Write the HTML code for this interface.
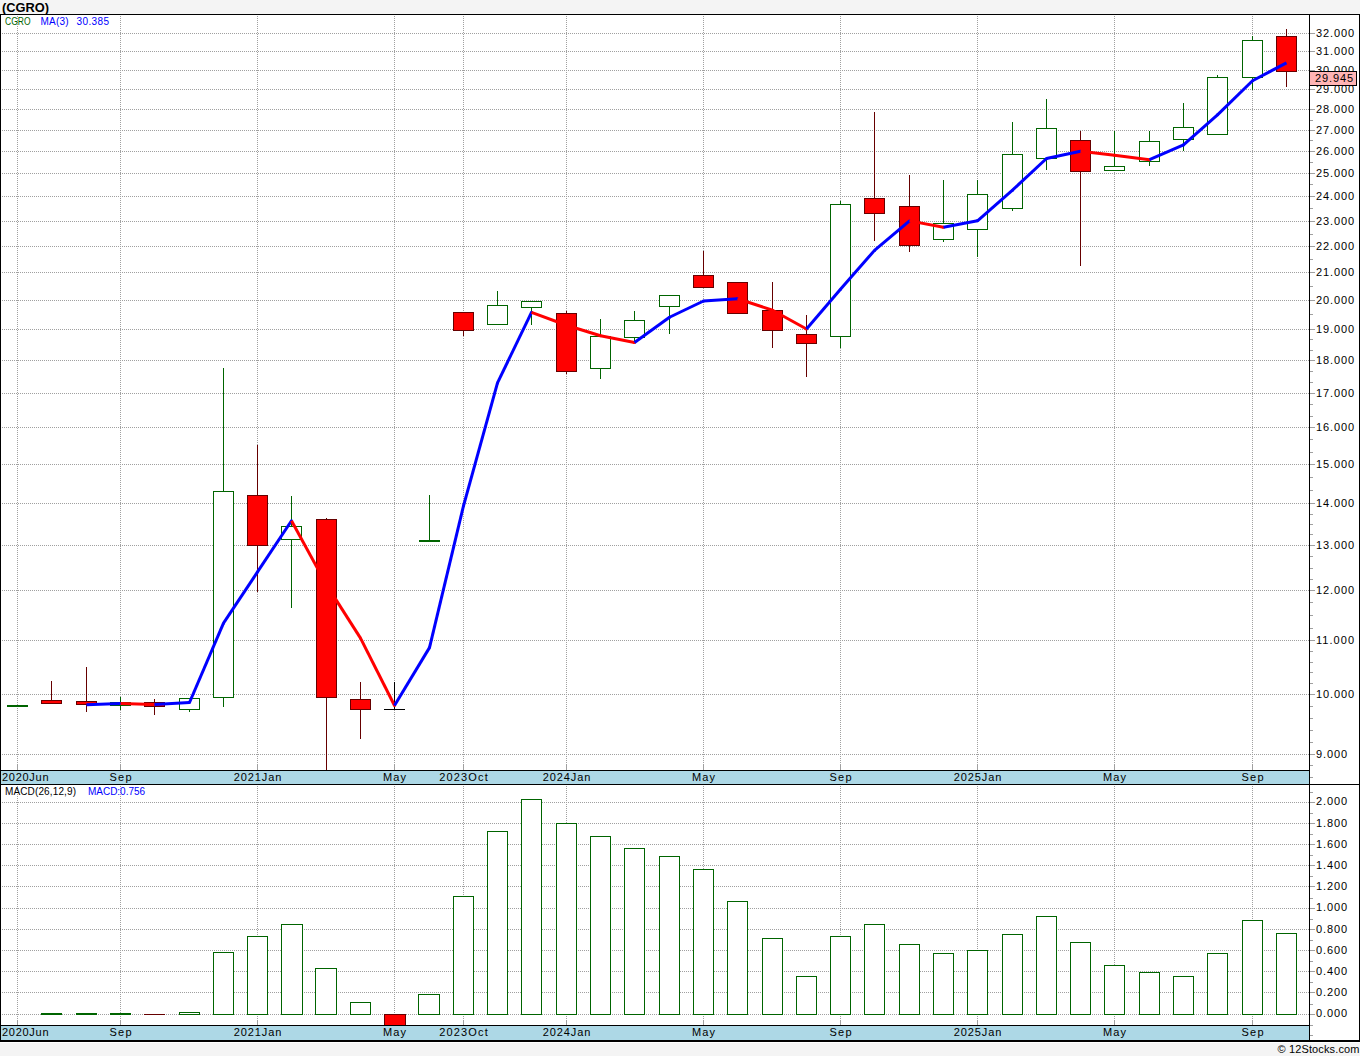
<!DOCTYPE html><html><head><meta charset="utf-8"><style>html,body{margin:0;padding:0;background:#f4f4f4;width:1360px;height:1056px;overflow:hidden}svg{display:block}text{font-family:"Liberation Sans", sans-serif}</style></head><body>
<svg width="1360" height="1056" viewBox="0 0 1360 1056">
<rect x="0" y="0" width="1360" height="1056" fill="#f4f4f4"/>
<rect x="0" y="14" width="1360" height="1029" fill="#ffffff"/>
<g shape-rendering="crispEdges">
<line x1="1" y1="754.5" x2="1309" y2="754.5" stroke="#a0a0a0" stroke-dasharray="1 1" stroke-dashoffset="-1"/>
<line x1="1" y1="694.5" x2="1309" y2="694.5" stroke="#a0a0a0" stroke-dasharray="1 1" stroke-dashoffset="-1"/>
<line x1="1" y1="640.5" x2="1309" y2="640.5" stroke="#a0a0a0" stroke-dasharray="1 1" stroke-dashoffset="-1"/>
<line x1="1" y1="590.5" x2="1309" y2="590.5" stroke="#a0a0a0" stroke-dasharray="1 1" stroke-dashoffset="-1"/>
<line x1="1" y1="545.5" x2="1309" y2="545.5" stroke="#a0a0a0" stroke-dasharray="1 1" stroke-dashoffset="-1"/>
<line x1="1" y1="503.5" x2="1309" y2="503.5" stroke="#a0a0a0" stroke-dasharray="1 1" stroke-dashoffset="-1"/>
<line x1="1" y1="464.5" x2="1309" y2="464.5" stroke="#a0a0a0" stroke-dasharray="1 1" stroke-dashoffset="-1"/>
<line x1="1" y1="427.5" x2="1309" y2="427.5" stroke="#a0a0a0" stroke-dasharray="1 1" stroke-dashoffset="-1"/>
<line x1="1" y1="393.5" x2="1309" y2="393.5" stroke="#a0a0a0" stroke-dasharray="1 1" stroke-dashoffset="-1"/>
<line x1="1" y1="360.5" x2="1309" y2="360.5" stroke="#a0a0a0" stroke-dasharray="1 1" stroke-dashoffset="-1"/>
<line x1="1" y1="329.5" x2="1309" y2="329.5" stroke="#a0a0a0" stroke-dasharray="1 1" stroke-dashoffset="-1"/>
<line x1="1" y1="300.5" x2="1309" y2="300.5" stroke="#a0a0a0" stroke-dasharray="1 1" stroke-dashoffset="-1"/>
<line x1="1" y1="272.5" x2="1309" y2="272.5" stroke="#a0a0a0" stroke-dasharray="1 1" stroke-dashoffset="-1"/>
<line x1="1" y1="246.5" x2="1309" y2="246.5" stroke="#a0a0a0" stroke-dasharray="1 1" stroke-dashoffset="-1"/>
<line x1="1" y1="221.5" x2="1309" y2="221.5" stroke="#a0a0a0" stroke-dasharray="1 1" stroke-dashoffset="-1"/>
<line x1="1" y1="196.5" x2="1309" y2="196.5" stroke="#a0a0a0" stroke-dasharray="1 1" stroke-dashoffset="-1"/>
<line x1="1" y1="173.5" x2="1309" y2="173.5" stroke="#a0a0a0" stroke-dasharray="1 1" stroke-dashoffset="-1"/>
<line x1="1" y1="151.5" x2="1309" y2="151.5" stroke="#a0a0a0" stroke-dasharray="1 1" stroke-dashoffset="-1"/>
<line x1="1" y1="130.5" x2="1309" y2="130.5" stroke="#a0a0a0" stroke-dasharray="1 1" stroke-dashoffset="-1"/>
<line x1="1" y1="109.5" x2="1309" y2="109.5" stroke="#a0a0a0" stroke-dasharray="1 1" stroke-dashoffset="-1"/>
<line x1="1" y1="89.5" x2="1309" y2="89.5" stroke="#a0a0a0" stroke-dasharray="1 1" stroke-dashoffset="-1"/>
<line x1="1" y1="70.5" x2="1309" y2="70.5" stroke="#a0a0a0" stroke-dasharray="1 1" stroke-dashoffset="-1"/>
<line x1="1" y1="51.5" x2="1309" y2="51.5" stroke="#a0a0a0" stroke-dasharray="1 1" stroke-dashoffset="-1"/>
<line x1="1" y1="33.5" x2="1309" y2="33.5" stroke="#a0a0a0" stroke-dasharray="1 1" stroke-dashoffset="-1"/>
<line x1="17.5" y1="14" x2="17.5" y2="764" stroke="#a0a0a0" stroke-dasharray="1 1"/>
<line x1="17.5" y1="764" x2="17.5" y2="770" stroke="#a0a0a0"/>
<line x1="17.5" y1="786" x2="17.5" y2="1020" stroke="#a0a0a0" stroke-dasharray="1 1"/>
<line x1="17.5" y1="1020" x2="17.5" y2="1025" stroke="#a0a0a0"/>
<line x1="120.5" y1="14" x2="120.5" y2="764" stroke="#a0a0a0" stroke-dasharray="1 1"/>
<line x1="120.5" y1="764" x2="120.5" y2="770" stroke="#a0a0a0"/>
<line x1="120.5" y1="786" x2="120.5" y2="1020" stroke="#a0a0a0" stroke-dasharray="1 1"/>
<line x1="120.5" y1="1020" x2="120.5" y2="1025" stroke="#a0a0a0"/>
<line x1="257.5" y1="14" x2="257.5" y2="764" stroke="#a0a0a0" stroke-dasharray="1 1"/>
<line x1="257.5" y1="764" x2="257.5" y2="770" stroke="#a0a0a0"/>
<line x1="257.5" y1="786" x2="257.5" y2="1020" stroke="#a0a0a0" stroke-dasharray="1 1"/>
<line x1="257.5" y1="1020" x2="257.5" y2="1025" stroke="#a0a0a0"/>
<line x1="394.5" y1="14" x2="394.5" y2="764" stroke="#a0a0a0" stroke-dasharray="1 1"/>
<line x1="394.5" y1="764" x2="394.5" y2="770" stroke="#a0a0a0"/>
<line x1="394.5" y1="786" x2="394.5" y2="1020" stroke="#a0a0a0" stroke-dasharray="1 1"/>
<line x1="394.5" y1="1020" x2="394.5" y2="1025" stroke="#a0a0a0"/>
<line x1="463.5" y1="14" x2="463.5" y2="764" stroke="#a0a0a0" stroke-dasharray="1 1"/>
<line x1="463.5" y1="764" x2="463.5" y2="770" stroke="#a0a0a0"/>
<line x1="463.5" y1="786" x2="463.5" y2="1020" stroke="#a0a0a0" stroke-dasharray="1 1"/>
<line x1="463.5" y1="1020" x2="463.5" y2="1025" stroke="#a0a0a0"/>
<line x1="566.5" y1="14" x2="566.5" y2="764" stroke="#a0a0a0" stroke-dasharray="1 1"/>
<line x1="566.5" y1="764" x2="566.5" y2="770" stroke="#a0a0a0"/>
<line x1="566.5" y1="786" x2="566.5" y2="1020" stroke="#a0a0a0" stroke-dasharray="1 1"/>
<line x1="566.5" y1="1020" x2="566.5" y2="1025" stroke="#a0a0a0"/>
<line x1="703.5" y1="14" x2="703.5" y2="764" stroke="#a0a0a0" stroke-dasharray="1 1"/>
<line x1="703.5" y1="764" x2="703.5" y2="770" stroke="#a0a0a0"/>
<line x1="703.5" y1="786" x2="703.5" y2="1020" stroke="#a0a0a0" stroke-dasharray="1 1"/>
<line x1="703.5" y1="1020" x2="703.5" y2="1025" stroke="#a0a0a0"/>
<line x1="840.5" y1="14" x2="840.5" y2="764" stroke="#a0a0a0" stroke-dasharray="1 1"/>
<line x1="840.5" y1="764" x2="840.5" y2="770" stroke="#a0a0a0"/>
<line x1="840.5" y1="786" x2="840.5" y2="1020" stroke="#a0a0a0" stroke-dasharray="1 1"/>
<line x1="840.5" y1="1020" x2="840.5" y2="1025" stroke="#a0a0a0"/>
<line x1="977.5" y1="14" x2="977.5" y2="764" stroke="#a0a0a0" stroke-dasharray="1 1"/>
<line x1="977.5" y1="764" x2="977.5" y2="770" stroke="#a0a0a0"/>
<line x1="977.5" y1="786" x2="977.5" y2="1020" stroke="#a0a0a0" stroke-dasharray="1 1"/>
<line x1="977.5" y1="1020" x2="977.5" y2="1025" stroke="#a0a0a0"/>
<line x1="1114.5" y1="14" x2="1114.5" y2="764" stroke="#a0a0a0" stroke-dasharray="1 1"/>
<line x1="1114.5" y1="764" x2="1114.5" y2="770" stroke="#a0a0a0"/>
<line x1="1114.5" y1="786" x2="1114.5" y2="1020" stroke="#a0a0a0" stroke-dasharray="1 1"/>
<line x1="1114.5" y1="1020" x2="1114.5" y2="1025" stroke="#a0a0a0"/>
<line x1="1252.5" y1="14" x2="1252.5" y2="764" stroke="#a0a0a0" stroke-dasharray="1 1"/>
<line x1="1252.5" y1="764" x2="1252.5" y2="770" stroke="#a0a0a0"/>
<line x1="1252.5" y1="786" x2="1252.5" y2="1020" stroke="#a0a0a0" stroke-dasharray="1 1"/>
<line x1="1252.5" y1="1020" x2="1252.5" y2="1025" stroke="#a0a0a0"/>
<line x1="1" y1="1014.5" x2="1309" y2="1014.5" stroke="#a0a0a0" stroke-dasharray="1 1" stroke-dashoffset="-1"/>
<line x1="1" y1="992.5" x2="1309" y2="992.5" stroke="#a0a0a0" stroke-dasharray="1 1" stroke-dashoffset="-1"/>
<line x1="1" y1="971.5" x2="1309" y2="971.5" stroke="#a0a0a0" stroke-dasharray="1 1" stroke-dashoffset="-1"/>
<line x1="1" y1="950.5" x2="1309" y2="950.5" stroke="#a0a0a0" stroke-dasharray="1 1" stroke-dashoffset="-1"/>
<line x1="1" y1="929.5" x2="1309" y2="929.5" stroke="#a0a0a0" stroke-dasharray="1 1" stroke-dashoffset="-1"/>
<line x1="1" y1="908.5" x2="1309" y2="908.5" stroke="#a0a0a0" stroke-dasharray="1 1" stroke-dashoffset="-1"/>
<line x1="1" y1="886.5" x2="1309" y2="886.5" stroke="#a0a0a0" stroke-dasharray="1 1" stroke-dashoffset="-1"/>
<line x1="1" y1="865.5" x2="1309" y2="865.5" stroke="#a0a0a0" stroke-dasharray="1 1" stroke-dashoffset="-1"/>
<line x1="1" y1="844.5" x2="1309" y2="844.5" stroke="#a0a0a0" stroke-dasharray="1 1" stroke-dashoffset="-1"/>
<line x1="1" y1="823.5" x2="1309" y2="823.5" stroke="#a0a0a0" stroke-dasharray="1 1" stroke-dashoffset="-1"/>
<line x1="1" y1="802.5" x2="1309" y2="802.5" stroke="#a0a0a0" stroke-dasharray="1 1" stroke-dashoffset="-1"/>
</g>
<g shape-rendering="crispEdges">
<rect x="7.5" y="705.5" width="20" height="1" fill="#ffffff" stroke="#006400"/>
<line x1="51.5" y1="681" x2="51.5" y2="700" stroke="#660000"/>
<rect x="41.5" y="700.5" width="20" height="3" fill="#ff0000" stroke="#660000"/>
<line x1="86.5" y1="667" x2="86.5" y2="701" stroke="#660000"/>
<line x1="86.5" y1="705" x2="86.5" y2="712" stroke="#660000"/>
<rect x="76.5" y="701.5" width="20" height="3" fill="#ff0000" stroke="#660000"/>
<line x1="120.5" y1="697" x2="120.5" y2="702" stroke="#006400"/>
<line x1="120.5" y1="706" x2="120.5" y2="710" stroke="#006400"/>
<rect x="110.5" y="702.5" width="20" height="3" fill="#ffffff" stroke="#006400"/>
<line x1="154.5" y1="699" x2="154.5" y2="702" stroke="#660000"/>
<line x1="154.5" y1="707" x2="154.5" y2="715" stroke="#660000"/>
<rect x="144.5" y="702.5" width="20" height="4" fill="#ff0000" stroke="#660000"/>
<line x1="189.5" y1="710" x2="189.5" y2="712" stroke="#006400"/>
<rect x="179.5" y="698.5" width="20" height="11" fill="#ffffff" stroke="#006400"/>
<line x1="223.5" y1="368" x2="223.5" y2="491" stroke="#006400"/>
<line x1="223.5" y1="698" x2="223.5" y2="707" stroke="#006400"/>
<rect x="213.5" y="491.5" width="20" height="206" fill="#ffffff" stroke="#006400"/>
<line x1="257.5" y1="445" x2="257.5" y2="495" stroke="#660000"/>
<line x1="257.5" y1="546" x2="257.5" y2="592" stroke="#660000"/>
<rect x="247.5" y="495.5" width="20" height="50" fill="#ff0000" stroke="#660000"/>
<line x1="291.5" y1="496" x2="291.5" y2="526" stroke="#006400"/>
<line x1="291.5" y1="540" x2="291.5" y2="608" stroke="#006400"/>
<rect x="281.5" y="526.5" width="20" height="13" fill="#ffffff" stroke="#006400"/>
<line x1="326.5" y1="518" x2="326.5" y2="519" stroke="#660000"/>
<line x1="326.5" y1="698" x2="326.5" y2="771" stroke="#660000"/>
<rect x="316.5" y="519.5" width="20" height="178" fill="#ff0000" stroke="#660000"/>
<line x1="360.5" y1="682" x2="360.5" y2="699" stroke="#660000"/>
<line x1="360.5" y1="710" x2="360.5" y2="739" stroke="#660000"/>
<rect x="350.5" y="699.5" width="20" height="10" fill="#ff0000" stroke="#660000"/>
<line x1="394.5" y1="682" x2="394.5" y2="709" stroke="#000"/>
<line x1="384" y1="709.5" x2="405" y2="709.5" stroke="#000"/>
<line x1="429.5" y1="495" x2="429.5" y2="540" stroke="#006400"/>
<rect x="419.5" y="540.5" width="20" height="1" fill="#ffffff" stroke="#006400"/>
<line x1="463.5" y1="331" x2="463.5" y2="336" stroke="#660000"/>
<rect x="453.5" y="312.5" width="20" height="18" fill="#ff0000" stroke="#660000"/>
<line x1="497.5" y1="291" x2="497.5" y2="305" stroke="#006400"/>
<rect x="487.5" y="305.5" width="20" height="19" fill="#ffffff" stroke="#006400"/>
<line x1="531.5" y1="308" x2="531.5" y2="325" stroke="#006400"/>
<rect x="521.5" y="301.5" width="20" height="6" fill="#ffffff" stroke="#006400"/>
<line x1="566.5" y1="311" x2="566.5" y2="313" stroke="#660000"/>
<line x1="566.5" y1="372" x2="566.5" y2="374" stroke="#660000"/>
<rect x="556.5" y="313.5" width="20" height="58" fill="#ff0000" stroke="#660000"/>
<line x1="600.5" y1="319" x2="600.5" y2="336" stroke="#006400"/>
<line x1="600.5" y1="369" x2="600.5" y2="379" stroke="#006400"/>
<rect x="590.5" y="336.5" width="20" height="32" fill="#ffffff" stroke="#006400"/>
<line x1="634.5" y1="311" x2="634.5" y2="320" stroke="#006400"/>
<line x1="634.5" y1="338" x2="634.5" y2="341" stroke="#006400"/>
<rect x="624.5" y="320.5" width="20" height="17" fill="#ffffff" stroke="#006400"/>
<line x1="669.5" y1="307" x2="669.5" y2="334" stroke="#006400"/>
<rect x="659.5" y="295.5" width="20" height="11" fill="#ffffff" stroke="#006400"/>
<line x1="703.5" y1="251" x2="703.5" y2="275" stroke="#660000"/>
<rect x="693.5" y="275.5" width="20" height="12" fill="#ff0000" stroke="#660000"/>
<rect x="727.5" y="282.5" width="20" height="31" fill="#ff0000" stroke="#660000"/>
<line x1="772.5" y1="282" x2="772.5" y2="310" stroke="#660000"/>
<line x1="772.5" y1="331" x2="772.5" y2="348" stroke="#660000"/>
<rect x="762.5" y="310.5" width="20" height="20" fill="#ff0000" stroke="#660000"/>
<line x1="806.5" y1="315" x2="806.5" y2="334" stroke="#660000"/>
<line x1="806.5" y1="344" x2="806.5" y2="377" stroke="#660000"/>
<rect x="796.5" y="334.5" width="20" height="9" fill="#ff0000" stroke="#660000"/>
<line x1="840.5" y1="201" x2="840.5" y2="204" stroke="#006400"/>
<line x1="840.5" y1="337" x2="840.5" y2="348" stroke="#006400"/>
<rect x="830.5" y="204.5" width="20" height="132" fill="#ffffff" stroke="#006400"/>
<line x1="874.5" y1="112" x2="874.5" y2="198" stroke="#660000"/>
<line x1="874.5" y1="214" x2="874.5" y2="241" stroke="#660000"/>
<rect x="864.5" y="198.5" width="20" height="15" fill="#ff0000" stroke="#660000"/>
<line x1="909.5" y1="175" x2="909.5" y2="206" stroke="#660000"/>
<line x1="909.5" y1="246" x2="909.5" y2="252" stroke="#660000"/>
<rect x="899.5" y="206.5" width="20" height="39" fill="#ff0000" stroke="#660000"/>
<line x1="943.5" y1="180" x2="943.5" y2="223" stroke="#006400"/>
<line x1="943.5" y1="240" x2="943.5" y2="242" stroke="#006400"/>
<rect x="933.5" y="223.5" width="20" height="16" fill="#ffffff" stroke="#006400"/>
<line x1="977.5" y1="180" x2="977.5" y2="194" stroke="#006400"/>
<line x1="977.5" y1="230" x2="977.5" y2="257" stroke="#006400"/>
<rect x="967.5" y="194.5" width="20" height="35" fill="#ffffff" stroke="#006400"/>
<line x1="1012.5" y1="122" x2="1012.5" y2="154" stroke="#006400"/>
<line x1="1012.5" y1="209" x2="1012.5" y2="211" stroke="#006400"/>
<rect x="1002.5" y="154.5" width="20" height="54" fill="#ffffff" stroke="#006400"/>
<line x1="1046.5" y1="99" x2="1046.5" y2="128" stroke="#006400"/>
<line x1="1046.5" y1="159" x2="1046.5" y2="170" stroke="#006400"/>
<rect x="1036.5" y="128.5" width="20" height="30" fill="#ffffff" stroke="#006400"/>
<line x1="1080.5" y1="131" x2="1080.5" y2="140" stroke="#660000"/>
<line x1="1080.5" y1="172" x2="1080.5" y2="266" stroke="#660000"/>
<rect x="1070.5" y="140.5" width="20" height="31" fill="#ff0000" stroke="#660000"/>
<line x1="1114.5" y1="131" x2="1114.5" y2="166" stroke="#006400"/>
<rect x="1104.5" y="166.5" width="20" height="4" fill="#ffffff" stroke="#006400"/>
<line x1="1149.5" y1="131" x2="1149.5" y2="141" stroke="#006400"/>
<line x1="1149.5" y1="162" x2="1149.5" y2="166" stroke="#006400"/>
<rect x="1139.5" y="141.5" width="20" height="20" fill="#ffffff" stroke="#006400"/>
<line x1="1183.5" y1="103" x2="1183.5" y2="127" stroke="#006400"/>
<line x1="1183.5" y1="140" x2="1183.5" y2="151" stroke="#006400"/>
<rect x="1173.5" y="127.5" width="20" height="12" fill="#ffffff" stroke="#006400"/>
<line x1="1217.5" y1="75" x2="1217.5" y2="77" stroke="#006400"/>
<rect x="1207.5" y="77.5" width="20" height="57" fill="#ffffff" stroke="#006400"/>
<line x1="1252.5" y1="36" x2="1252.5" y2="40" stroke="#006400"/>
<line x1="1252.5" y1="78" x2="1252.5" y2="90" stroke="#006400"/>
<rect x="1242.5" y="40.5" width="20" height="37" fill="#ffffff" stroke="#006400"/>
<line x1="1286.5" y1="29" x2="1286.5" y2="36" stroke="#660000"/>
<line x1="1286.5" y1="72" x2="1286.5" y2="87" stroke="#660000"/>
<rect x="1276.5" y="36.5" width="20" height="35" fill="#ff0000" stroke="#660000"/>
</g>
<g fill="none" stroke-width="3" stroke-linecap="butt">
<line x1="86.5" y1="704.67" x2="120.5" y2="703.50" stroke="#0000ff"/>
<circle cx="120.5" cy="703.50" r="1.5" fill="#0000ff" stroke="none"/>
<line x1="120.5" y1="703.50" x2="154.5" y2="704.50" stroke="#ff0000"/>
<circle cx="154.5" cy="704.50" r="1.5" fill="#ff0000" stroke="none"/>
<line x1="154.5" y1="704.50" x2="189.5" y2="702.49" stroke="#0000ff"/>
<circle cx="189.5" cy="702.49" r="1.5" fill="#0000ff" stroke="none"/>
<line x1="189.5" y1="702.49" x2="223.5" y2="623.13" stroke="#0000ff"/>
<circle cx="223.5" cy="623.13" r="1.5" fill="#0000ff" stroke="none"/>
<line x1="223.5" y1="623.13" x2="257.5" y2="571.94" stroke="#0000ff"/>
<circle cx="257.5" cy="571.94" r="1.5" fill="#0000ff" stroke="none"/>
<line x1="257.5" y1="571.94" x2="291.5" y2="520.72" stroke="#0000ff"/>
<circle cx="291.5" cy="520.72" r="1.5" fill="#0000ff" stroke="none"/>
<line x1="291.5" y1="520.72" x2="326.5" y2="584.85" stroke="#ff0000"/>
<circle cx="326.5" cy="584.85" r="1.5" fill="#ff0000" stroke="none"/>
<line x1="326.5" y1="584.85" x2="360.5" y2="638.16" stroke="#ff0000"/>
<circle cx="360.5" cy="638.16" r="1.5" fill="#ff0000" stroke="none"/>
<line x1="360.5" y1="638.16" x2="394.5" y2="705.47" stroke="#ff0000"/>
<circle cx="394.5" cy="705.47" r="1.5" fill="#ff0000" stroke="none"/>
<line x1="394.5" y1="705.47" x2="429.5" y2="647.62" stroke="#0000ff"/>
<circle cx="429.5" cy="647.62" r="1.5" fill="#0000ff" stroke="none"/>
<line x1="429.5" y1="647.62" x2="463.5" y2="505.80" stroke="#0000ff"/>
<circle cx="463.5" cy="505.80" r="1.5" fill="#0000ff" stroke="none"/>
<line x1="463.5" y1="505.80" x2="497.5" y2="382.97" stroke="#0000ff"/>
<circle cx="497.5" cy="382.97" r="1.5" fill="#0000ff" stroke="none"/>
<line x1="497.5" y1="382.97" x2="531.5" y2="312.36" stroke="#0000ff"/>
<circle cx="531.5" cy="312.36" r="1.5" fill="#0000ff" stroke="none"/>
<line x1="531.5" y1="312.36" x2="566.5" y2="325.27" stroke="#ff0000"/>
<circle cx="566.5" cy="325.27" r="1.5" fill="#ff0000" stroke="none"/>
<line x1="566.5" y1="325.27" x2="600.5" y2="335.78" stroke="#ff0000"/>
<circle cx="600.5" cy="335.78" r="1.5" fill="#ff0000" stroke="none"/>
<line x1="600.5" y1="335.78" x2="634.5" y2="342.44" stroke="#ff0000"/>
<circle cx="634.5" cy="342.44" r="1.5" fill="#ff0000" stroke="none"/>
<line x1="634.5" y1="342.44" x2="669.5" y2="317.25" stroke="#0000ff"/>
<circle cx="669.5" cy="317.25" r="1.5" fill="#0000ff" stroke="none"/>
<line x1="669.5" y1="317.25" x2="703.5" y2="300.99" stroke="#0000ff"/>
<circle cx="703.5" cy="300.99" r="1.5" fill="#0000ff" stroke="none"/>
<line x1="703.5" y1="300.99" x2="737.5" y2="298.73" stroke="#0000ff"/>
<circle cx="737.5" cy="298.73" r="1.5" fill="#0000ff" stroke="none"/>
<line x1="737.5" y1="298.73" x2="772.5" y2="310.22" stroke="#ff0000"/>
<circle cx="772.5" cy="310.22" r="1.5" fill="#ff0000" stroke="none"/>
<line x1="772.5" y1="310.22" x2="806.5" y2="329.03" stroke="#ff0000"/>
<circle cx="806.5" cy="329.03" r="1.5" fill="#ff0000" stroke="none"/>
<line x1="806.5" y1="329.03" x2="840.5" y2="289.30" stroke="#0000ff"/>
<circle cx="840.5" cy="289.30" r="1.5" fill="#0000ff" stroke="none"/>
<line x1="840.5" y1="289.30" x2="874.5" y2="250.38" stroke="#0000ff"/>
<circle cx="874.5" cy="250.38" r="1.5" fill="#0000ff" stroke="none"/>
<line x1="874.5" y1="250.38" x2="909.5" y2="220.90" stroke="#0000ff"/>
<circle cx="909.5" cy="220.90" r="1.5" fill="#0000ff" stroke="none"/>
<line x1="909.5" y1="220.90" x2="943.5" y2="227.34" stroke="#ff0000"/>
<circle cx="943.5" cy="227.34" r="1.5" fill="#ff0000" stroke="none"/>
<line x1="943.5" y1="227.34" x2="977.5" y2="220.78" stroke="#0000ff"/>
<circle cx="977.5" cy="220.78" r="1.5" fill="#0000ff" stroke="none"/>
<line x1="977.5" y1="220.78" x2="1012.5" y2="190.13" stroke="#0000ff"/>
<circle cx="1012.5" cy="190.13" r="1.5" fill="#0000ff" stroke="none"/>
<line x1="1012.5" y1="190.13" x2="1046.5" y2="158.52" stroke="#0000ff"/>
<circle cx="1046.5" cy="158.52" r="1.5" fill="#0000ff" stroke="none"/>
<line x1="1046.5" y1="158.52" x2="1080.5" y2="151.22" stroke="#0000ff"/>
<circle cx="1080.5" cy="151.22" r="1.5" fill="#0000ff" stroke="none"/>
<line x1="1080.5" y1="151.22" x2="1114.5" y2="155.17" stroke="#ff0000"/>
<circle cx="1114.5" cy="155.17" r="1.5" fill="#ff0000" stroke="none"/>
<line x1="1114.5" y1="155.17" x2="1149.5" y2="159.68" stroke="#ff0000"/>
<circle cx="1149.5" cy="159.68" r="1.5" fill="#ff0000" stroke="none"/>
<line x1="1149.5" y1="159.68" x2="1183.5" y2="144.94" stroke="#0000ff"/>
<circle cx="1183.5" cy="144.94" r="1.5" fill="#0000ff" stroke="none"/>
<line x1="1183.5" y1="144.94" x2="1217.5" y2="114.83" stroke="#0000ff"/>
<circle cx="1217.5" cy="114.83" r="1.5" fill="#0000ff" stroke="none"/>
<line x1="1217.5" y1="114.83" x2="1252.5" y2="80.72" stroke="#0000ff"/>
<circle cx="1252.5" cy="80.72" r="1.5" fill="#0000ff" stroke="none"/>
<line x1="1252.5" y1="80.72" x2="1286.5" y2="62.93" stroke="#0000ff"/>
</g>
<g shape-rendering="crispEdges">
<rect x="41.5" y="1013.5" width="20" height="1" fill="#ffffff" stroke="#006400"/>
<rect x="76.5" y="1013.5" width="20" height="1" fill="#ffffff" stroke="#006400"/>
<rect x="110.5" y="1013.5" width="20" height="1" fill="#ffffff" stroke="#006400"/>
<line x1="144" y1="1014.5" x2="165" y2="1014.5" stroke="#660000"/>
<rect x="179.5" y="1012.5" width="20" height="2" fill="#ffffff" stroke="#006400"/>
<rect x="213.5" y="952.5" width="20" height="62" fill="#ffffff" stroke="#006400"/>
<rect x="247.5" y="936.5" width="20" height="78" fill="#ffffff" stroke="#006400"/>
<rect x="281.5" y="924.5" width="21" height="90" fill="#ffffff" stroke="#006400"/>
<rect x="315.5" y="968.5" width="21" height="46" fill="#ffffff" stroke="#006400"/>
<rect x="350.5" y="1002.5" width="20" height="12" fill="#ffffff" stroke="#006400"/>
<rect x="384.5" y="1014.5" width="21" height="11" fill="#ff0000" stroke="#660000"/>
<rect x="418.5" y="994.5" width="21" height="20" fill="#ffffff" stroke="#006400"/>
<rect x="453.5" y="896.5" width="20" height="118" fill="#ffffff" stroke="#006400"/>
<rect x="487.5" y="831.5" width="20" height="183" fill="#ffffff" stroke="#006400"/>
<rect x="521.5" y="799.5" width="20" height="215" fill="#ffffff" stroke="#006400"/>
<rect x="556.5" y="823.5" width="20" height="191" fill="#ffffff" stroke="#006400"/>
<rect x="590.5" y="836.5" width="20" height="178" fill="#ffffff" stroke="#006400"/>
<rect x="624.5" y="848.5" width="20" height="166" fill="#ffffff" stroke="#006400"/>
<rect x="659.5" y="856.5" width="20" height="158" fill="#ffffff" stroke="#006400"/>
<rect x="693.5" y="869.5" width="20" height="145" fill="#ffffff" stroke="#006400"/>
<rect x="727.5" y="901.5" width="20" height="113" fill="#ffffff" stroke="#006400"/>
<rect x="762.5" y="938.5" width="20" height="76" fill="#ffffff" stroke="#006400"/>
<rect x="796.5" y="976.5" width="20" height="38" fill="#ffffff" stroke="#006400"/>
<rect x="830.5" y="936.5" width="20" height="78" fill="#ffffff" stroke="#006400"/>
<rect x="864.5" y="924.5" width="20" height="90" fill="#ffffff" stroke="#006400"/>
<rect x="899.5" y="944.5" width="20" height="70" fill="#ffffff" stroke="#006400"/>
<rect x="933.5" y="953.5" width="20" height="61" fill="#ffffff" stroke="#006400"/>
<rect x="967.5" y="950.5" width="20" height="64" fill="#ffffff" stroke="#006400"/>
<rect x="1002.5" y="934.5" width="20" height="80" fill="#ffffff" stroke="#006400"/>
<rect x="1036.5" y="916.5" width="20" height="98" fill="#ffffff" stroke="#006400"/>
<rect x="1070.5" y="942.5" width="20" height="72" fill="#ffffff" stroke="#006400"/>
<rect x="1104.5" y="965.5" width="20" height="49" fill="#ffffff" stroke="#006400"/>
<rect x="1139.5" y="972.5" width="20" height="42" fill="#ffffff" stroke="#006400"/>
<rect x="1173.5" y="976.5" width="20" height="38" fill="#ffffff" stroke="#006400"/>
<rect x="1207.5" y="953.5" width="20" height="61" fill="#ffffff" stroke="#006400"/>
<rect x="1242.5" y="920.5" width="20" height="94" fill="#ffffff" stroke="#006400"/>
<rect x="1276.5" y="933.5" width="20" height="81" fill="#ffffff" stroke="#006400"/>
</g>
<g shape-rendering="crispEdges" fill="#000">
<rect x="0" y="14" width="1360" height="1"/>
<rect x="0" y="14" width="1" height="1028"/>
<rect x="1359" y="14" width="1" height="1028"/>
<rect x="1309" y="14" width="1" height="1028"/>
<rect x="1" y="771" width="1308" height="13" fill="#add8e6"/>
<rect x="0" y="770" width="1310" height="1"/>
<rect x="0" y="784" width="1360" height="1"/>
<rect x="1" y="1026" width="1308" height="14" fill="#add8e6"/>
<rect x="0" y="1025" width="1310" height="1"/>
<rect x="0" y="1040" width="1360" height="2"/>
</g>
<g shape-rendering="crispEdges" stroke="#a0a0a0">
<line x1="1310" y1="754.5" x2="1315" y2="754.5"/>
<line x1="1310" y1="694.5" x2="1315" y2="694.5"/>
<line x1="1310" y1="640.5" x2="1315" y2="640.5"/>
<line x1="1310" y1="590.5" x2="1315" y2="590.5"/>
<line x1="1310" y1="545.5" x2="1315" y2="545.5"/>
<line x1="1310" y1="503.5" x2="1315" y2="503.5"/>
<line x1="1310" y1="464.5" x2="1315" y2="464.5"/>
<line x1="1310" y1="427.5" x2="1315" y2="427.5"/>
<line x1="1310" y1="393.5" x2="1315" y2="393.5"/>
<line x1="1310" y1="360.5" x2="1315" y2="360.5"/>
<line x1="1310" y1="329.5" x2="1315" y2="329.5"/>
<line x1="1310" y1="300.5" x2="1315" y2="300.5"/>
<line x1="1310" y1="272.5" x2="1315" y2="272.5"/>
<line x1="1310" y1="246.5" x2="1315" y2="246.5"/>
<line x1="1310" y1="221.5" x2="1315" y2="221.5"/>
<line x1="1310" y1="196.5" x2="1315" y2="196.5"/>
<line x1="1310" y1="173.5" x2="1315" y2="173.5"/>
<line x1="1310" y1="151.5" x2="1315" y2="151.5"/>
<line x1="1310" y1="130.5" x2="1315" y2="130.5"/>
<line x1="1310" y1="109.5" x2="1315" y2="109.5"/>
<line x1="1310" y1="89.5" x2="1315" y2="89.5"/>
<line x1="1310" y1="70.5" x2="1315" y2="70.5"/>
<line x1="1310" y1="51.5" x2="1315" y2="51.5"/>
<line x1="1310" y1="33.5" x2="1315" y2="33.5"/>
<line x1="1310" y1="742.5" x2="1313" y2="742.5"/>
<line x1="1310" y1="730.5" x2="1313" y2="730.5"/>
<line x1="1310" y1="718.5" x2="1313" y2="718.5"/>
<line x1="1310" y1="706.5" x2="1313" y2="706.5"/>
<line x1="1310" y1="683.5" x2="1313" y2="683.5"/>
<line x1="1310" y1="672.5" x2="1313" y2="672.5"/>
<line x1="1310" y1="662.5" x2="1313" y2="662.5"/>
<line x1="1310" y1="651.5" x2="1313" y2="651.5"/>
<line x1="1310" y1="628.5" x2="1313" y2="628.5"/>
<line x1="1310" y1="615.5" x2="1313" y2="615.5"/>
<line x1="1310" y1="602.5" x2="1313" y2="602.5"/>
<line x1="1310" y1="579.5" x2="1313" y2="579.5"/>
<line x1="1310" y1="568.5" x2="1313" y2="568.5"/>
<line x1="1310" y1="556.5" x2="1313" y2="556.5"/>
<line x1="1310" y1="534.5" x2="1313" y2="534.5"/>
<line x1="1310" y1="524.5" x2="1313" y2="524.5"/>
<line x1="1310" y1="514.5" x2="1313" y2="514.5"/>
<line x1="1310" y1="490.5" x2="1313" y2="490.5"/>
<line x1="1310" y1="477.5" x2="1313" y2="477.5"/>
<line x1="1310" y1="452.5" x2="1313" y2="452.5"/>
<line x1="1310" y1="439.5" x2="1313" y2="439.5"/>
<line x1="1310" y1="416.5" x2="1313" y2="416.5"/>
<line x1="1310" y1="404.5" x2="1313" y2="404.5"/>
<line x1="1310" y1="382.5" x2="1313" y2="382.5"/>
<line x1="1310" y1="371.5" x2="1313" y2="371.5"/>
<line x1="1310" y1="350.5" x2="1313" y2="350.5"/>
<line x1="1310" y1="339.5" x2="1313" y2="339.5"/>
<line x1="1310" y1="314.5" x2="1313" y2="314.5"/>
<line x1="1310" y1="286.5" x2="1313" y2="286.5"/>
<line x1="1310" y1="259.5" x2="1313" y2="259.5"/>
<line x1="1310" y1="234.5" x2="1313" y2="234.5"/>
<line x1="1310" y1="208.5" x2="1313" y2="208.5"/>
<line x1="1310" y1="184.5" x2="1313" y2="184.5"/>
<line x1="1310" y1="162.5" x2="1313" y2="162.5"/>
<line x1="1310" y1="140.5" x2="1313" y2="140.5"/>
<line x1="1310" y1="120.5" x2="1313" y2="120.5"/>
<line x1="1310" y1="765.5" x2="1313" y2="765.5"/>
<line x1="1310" y1="777.5" x2="1313" y2="777.5"/>
<line x1="1310" y1="1035.5" x2="1313" y2="1035.5"/>
<line x1="1310" y1="1014.5" x2="1315" y2="1014.5"/>
<line x1="1310" y1="992.5" x2="1315" y2="992.5"/>
<line x1="1310" y1="971.5" x2="1315" y2="971.5"/>
<line x1="1310" y1="950.5" x2="1315" y2="950.5"/>
<line x1="1310" y1="929.5" x2="1315" y2="929.5"/>
<line x1="1310" y1="908.5" x2="1315" y2="908.5"/>
<line x1="1310" y1="886.5" x2="1315" y2="886.5"/>
<line x1="1310" y1="865.5" x2="1315" y2="865.5"/>
<line x1="1310" y1="844.5" x2="1315" y2="844.5"/>
<line x1="1310" y1="823.5" x2="1315" y2="823.5"/>
<line x1="1310" y1="802.5" x2="1315" y2="802.5"/>
<line x1="1310" y1="1025.5" x2="1313" y2="1025.5"/>
<line x1="1310" y1="1004.5" x2="1313" y2="1004.5"/>
<line x1="1310" y1="982.5" x2="1313" y2="982.5"/>
<line x1="1310" y1="961.5" x2="1313" y2="961.5"/>
<line x1="1310" y1="940.5" x2="1313" y2="940.5"/>
<line x1="1310" y1="919.5" x2="1313" y2="919.5"/>
<line x1="1310" y1="898.5" x2="1313" y2="898.5"/>
<line x1="1310" y1="876.5" x2="1313" y2="876.5"/>
<line x1="1310" y1="855.5" x2="1313" y2="855.5"/>
<line x1="1310" y1="834.5" x2="1313" y2="834.5"/>
<line x1="1310" y1="813.5" x2="1313" y2="813.5"/>
<line x1="1310" y1="792.5" x2="1313" y2="792.5"/>
</g>
<g font-size="11" fill="#000">
<text x="2" y="11.5" font-size="12" font-weight="bold" textLength="47" lengthAdjust="spacingAndGlyphs">(CGRO)</text>
<text x="1316" y="758" textLength="31">9.000</text>
<text x="1316" y="698" textLength="38">10.000</text>
<text x="1316" y="644" textLength="38">11.000</text>
<text x="1316" y="594" textLength="38">12.000</text>
<text x="1316" y="549" textLength="38">13.000</text>
<text x="1316" y="507" textLength="38">14.000</text>
<text x="1316" y="468" textLength="38">15.000</text>
<text x="1316" y="431" textLength="38">16.000</text>
<text x="1316" y="397" textLength="38">17.000</text>
<text x="1316" y="364" textLength="38">18.000</text>
<text x="1316" y="333" textLength="38">19.000</text>
<text x="1316" y="304" textLength="38">20.000</text>
<text x="1316" y="276" textLength="38">21.000</text>
<text x="1316" y="250" textLength="38">22.000</text>
<text x="1316" y="225" textLength="38">23.000</text>
<text x="1316" y="200" textLength="38">24.000</text>
<text x="1316" y="177" textLength="38">25.000</text>
<text x="1316" y="155" textLength="38">26.000</text>
<text x="1316" y="134" textLength="38">27.000</text>
<text x="1316" y="113" textLength="38">28.000</text>
<text x="1316" y="93" textLength="38">29.000</text>
<text x="1316" y="74" textLength="38">30.000</text>
<text x="1316" y="55" textLength="38">31.000</text>
<text x="1316" y="37" textLength="38">32.000</text>
<text x="1316" y="1017" textLength="31">0.000</text>
<text x="1316" y="996" textLength="31">0.200</text>
<text x="1316" y="975" textLength="31">0.400</text>
<text x="1316" y="954" textLength="31">0.600</text>
<text x="1316" y="933" textLength="31">0.800</text>
<text x="1316" y="911" textLength="31">1.000</text>
<text x="1316" y="890" textLength="31">1.200</text>
<text x="1316" y="869" textLength="31">1.400</text>
<text x="1316" y="848" textLength="31">1.600</text>
<text x="1316" y="827" textLength="31">1.800</text>
<text x="1316" y="805" textLength="31">2.000</text>
<text x="2" y="781" textLength="46.5">2020Jun</text>
<text x="109.5" y="781" textLength="22">Sep</text>
<text x="233.75" y="781" textLength="47.5">2021Jan</text>
<text x="383.0" y="781" textLength="23">May</text>
<text x="439.25" y="781" textLength="48.5">2023Oct</text>
<text x="542.75" y="781" textLength="47.5">2024Jan</text>
<text x="692.0" y="781" textLength="23">May</text>
<text x="829.5" y="781" textLength="22">Sep</text>
<text x="953.75" y="781" textLength="47.5">2025Jan</text>
<text x="1103.0" y="781" textLength="23">May</text>
<text x="1241.5" y="781" textLength="22">Sep</text>
<text x="2" y="1036" textLength="46.5">2020Jun</text>
<text x="109.5" y="1036" textLength="22">Sep</text>
<text x="233.75" y="1036" textLength="47.5">2021Jan</text>
<text x="383.0" y="1036" textLength="23">May</text>
<text x="439.25" y="1036" textLength="48.5">2023Oct</text>
<text x="542.75" y="1036" textLength="47.5">2024Jan</text>
<text x="692.0" y="1036" textLength="23">May</text>
<text x="829.5" y="1036" textLength="22">Sep</text>
<text x="953.75" y="1036" textLength="47.5">2025Jan</text>
<text x="1103.0" y="1036" textLength="23">May</text>
<text x="1241.5" y="1036" textLength="22">Sep</text>
<text x="1277.5" y="1052.5" font-size="11" textLength="82">© 12Stocks.com</text>
</g>
<rect x="1309.5" y="71.5" width="47" height="14" fill="#ffb4b4" stroke="#000" shape-rendering="crispEdges"/>
<text x="1315" y="82" font-size="11" fill="#000" textLength="38">29.945</text>
<text x="5" y="25" font-size="10" fill="#006400" textLength="25.5" lengthAdjust="spacingAndGlyphs">CGRO</text>
<text x="40.5" y="25" font-size="10" fill="#0000ff" textLength="28">MA(3)</text>
<text x="76.5" y="25" font-size="10" fill="#0000ff" textLength="32.5">30.385</text>
<text x="5" y="795" font-size="10" fill="#000000" textLength="71">MACD(26,12,9)</text>
<text x="88" y="795" font-size="10" fill="#0000ff" textLength="57">MACD:0.756</text>
</svg></body></html>
